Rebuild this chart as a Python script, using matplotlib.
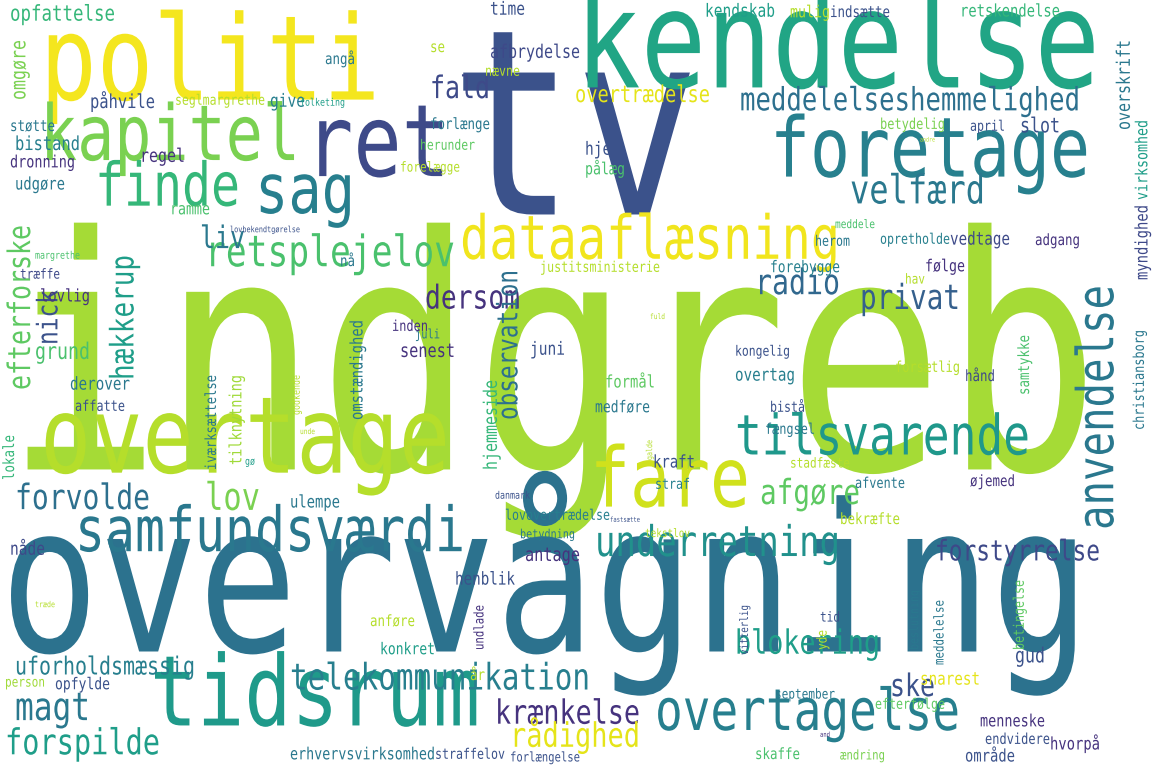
import matplotlib
matplotlib.use("Agg")
import matplotlib.pyplot as plt
from matplotlib.textpath import TextPath
from matplotlib.patches import PathPatch
from matplotlib.font_manager import FontProperties
from matplotlib.transforms import Affine2D

W, H = 1155, 770
# (word, a, b, c, rotation, colour)
# rot 0: a=x_left, b=x_right, c=y_center ; rot 90: a=x_center, b=y_top, c=y_bottom
entries = [
("indgreb", 5, 1100, 385, 0, "#a5db36"),
("overvågning", 0, 1090, 598, 0, "#2c728e"),
("tv", 450, 700, 147, 0, "#3b528b"),
("kendelse", 575, 1100, 52, 0, "#21a585"),
("politi", 40, 380, 69, 0, "#f4e61e"),
("overtage", 40, 450, 445, 0, "#b5de2b"),
("tidsrum", 150, 480, 700, 0, "#1f9a8a"),
("ret", 305, 450, 150, 0, "#3e4a89"),
("sag", 255, 355, 195, 0, "#277f8e"),
("kapitel", 40, 300, 140, 0, "#7ad151"),
("foretage", 770, 1090, 155, 0, "#27808e"),
("dataaflæsning", 460, 840, 243, 0, "#f1e51d"),
("finde", 95, 240, 190, 0, "#35b779"),
("fare", 590, 750, 485, 0, "#d0e11c"),
("tilsvarende", 735, 1030, 440, 0, "#1f988b"),
("anvendelse", 1100, 285, 530, 90, "#2a788e"),
("samfundsværdi", 75, 465, 535, 0, "#2a788e"),
("retsplejelov", 205, 455, 255, 0, "#4ac16d"),
("meddelelseshemmelighed", 740, 1080, 102, 0, "#2d708e"),
("overtagelse", 655, 960, 715, 0, "#277f8e"),
("forspilde", 5, 160, 745, 0, "#1f9e89"),
("magt", 15, 90, 710, 0, "#2a788e"),
("telekommunikation", 290, 590, 680, 0, "#277f8e"),
("krænkelse", 495, 640, 715, 0, "#46337e"),
("rådighed", 510, 640, 738, 0, "#e5e419"),
("blokering", 735, 880, 645, 0, "#1f9e89"),
("ske", 890, 935, 688, 0, "#3b528b"),
("underretning", 595, 840, 545, 0, "#21918c"),
("forstyrrelse", 935, 1100, 553, 0, "#3e4989"),
("afgøre", 760, 860, 495, 0, "#5ec962"),
("forvolde", 15, 150, 500, 0, "#2d708e"),
("lov", 205, 260, 500, 0, "#7ad151"),
("dersom", 425, 520, 300, 0, "#46337e"),
("privat", 860, 960, 300, 0, "#35608d"),
("radio", 755, 840, 285, 0, "#31688e"),
("velfærd", 850, 985, 193, 0, "#2a788e"),
("liv", 200, 245, 240, 0, "#2a788e"),
("fald", 430, 490, 90, 0, "#3e4a89"),
("nick", 50, 290, 345, 90, "#3b528b"),
("efterforske", 22, 225, 390, 90, "#5ec962"),
("hækkerup", 125, 255, 380, 90, "#1f9e89"),
("observation", 510, 270, 420, 90, "#2d708e"),
("iværksættelse", 212, 375, 470, 90, "#2a788e"),
("tilknytning", 237, 375, 465, 90, "#a0da39"),
("omstændighed", 358, 320, 420, 90, "#2a788e"),
("hjemmeside", 492, 380, 470, 90, "#35b779"),
("lovlig", 40, 90, 297, 0, "#46337e"),
("opfattelse", 10, 115, 15, 0, "#35b779"),
("omgøre", 20, 40, 100, 90, "#7ad151"),
("påhvile", 90, 155, 103, 0, "#3b528b"),
("seglmargrethe", 175, 265, 101, 0, "#b5de2b"),
("give", 270, 305, 102, 0, "#277f8e"),
("folketing", 300, 345, 103, 0, "#1f9e89"),
("angå", 325, 355, 60, 0, "#2a788e"),
("time", 490, 525, 10, 0, "#3b528b"),
("se", 430, 445, 48, 0, "#b5de2b"),
("afbrydelse", 490, 580, 53, 0, "#3e4989"),
("nævne", 485, 520, 72, 0, "#b5de2b"),
("overtrædelse", 575, 710, 96, 0, "#e5e419"),
("kendskab", 705, 775, 12, 0, "#1f9e89"),
("mulig", 790, 830, 13, 0, "#b5de2b"),
("indsætte", 830, 890, 13, 0, "#3b528b"),
("retskendelse", 960, 1060, 12, 0, "#35b779"),
("overskrift", 1125, 40, 130, 90, "#2a788e"),
("virksomhed", 1143, 120, 200, 90, "#1f9e89"),
("myndighed", 1143, 205, 280, 90, "#3e4989"),
("april", 970, 1005, 127, 0, "#3b528b"),
("slot", 1020, 1060, 127, 0, "#3b528b"),
("betydelig", 880, 945, 125, 0, "#7ad151"),
("forlænge", 430, 490, 125, 0, "#2a788e"),
("herunder", 420, 475, 146, 0, "#5ec962"),
("hjem", 585, 620, 150, 0, "#3b528b"),
("pålæg", 585, 625, 170, 0, "#4ac16d"),
("forelægge", 400, 460, 168, 0, "#b5de2b"),
("andre", 920, 935, 140, 0, "#b5de2b"),
("støtte", 10, 55, 127, 0, "#2a788e"),
("bistand", 15, 80, 145, 0, "#277f8e"),
("regel", 140, 185, 157, 0, "#46337e"),
("dronning", 10, 75, 163, 0, "#46337e"),
("udgøre", 15, 65, 185, 0, "#2a788e"),
("adgang", 1035, 1080, 241, 0, "#46337e"),
("meddele", 835, 875, 225, 0, "#4ac16d"),
("herom", 815, 850, 242, 0, "#2a788e"),
("opretholde", 880, 950, 240, 0, "#27808e"),
("vedtage", 950, 1010, 240, 0, "#3e4a89"),
("ramme", 170, 210, 210, 0, "#4ac16d"),
("lovbekendtgørelse", 230, 300, 230, 0, "#3b528b"),
("margrethe", 35, 80, 256, 0, "#4ac16d"),
("træffe", 20, 60, 275, 0, "#3e4989"),
("nå", 340, 355, 262, 0, "#2a788e"),
("justitsministerie", 540, 660, 268, 0, "#b5de2b"),
("forebygge", 770, 840, 268, 0, "#27808e"),
("følge", 925, 965, 267, 0, "#46337e"),
("hav", 905, 925, 280, 0, "#b5de2b"),
("grund", 35, 90, 353, 0, "#4ac16d"),
("derover", 70, 130, 385, 0, "#2a788e"),
("affatte", 75, 125, 407, 0, "#3b528b"),
("lokale", 10, 435, 480, 90, "#35b779"),
("kongelig", 735, 790, 352, 0, "#3b528b"),
("christiansborg", 1140, 330, 430, 90, "#2a788e"),
("samtykke", 1025, 335, 395, 90, "#4ac16d"),
("fuld", 650, 665, 317, 0, "#b5de2b"),
("juli", 415, 440, 335, 0, "#2a788e"),
("juni", 530, 565, 350, 0, "#3b528b"),
("senest", 400, 455, 352, 0, "#46337e"),
("inden", 392, 428, 327, 0, "#46337e"),
("formål", 605, 655, 383, 0, "#5ec962"),
("overtag", 735, 795, 376, 0, "#277f8e"),
("forsætlig", 895, 960, 368, 0, "#b5de2b"),
("hånd", 965, 995, 377, 0, "#3e4a89"),
("medføre", 595, 650, 408, 0, "#2a788e"),
("bistå", 770, 805, 408, 0, "#3b528b"),
("fængsel", 765, 815, 430, 0, "#2a788e"),
("galde", 650, 440, 460, 90, "#b5de2b"),
("godkende", 297, 375, 415, 90, "#b5de2b"),
("unde", 300, 315, 432, 0, "#b5de2b"),
("gø", 245, 255, 462, 0, "#1f9e89"),
("kraft", 653, 695, 463, 0, "#3b528b"),
("straf", 655, 690, 485, 0, "#27808e"),
("stadfæste", 790, 850, 464, 0, "#b5de2b"),
("afvente", 855, 905, 484, 0, "#2a788e"),
("øjemed", 970, 1015, 482, 0, "#46337e"),
("ulempe", 290, 340, 503, 0, "#2a788e"),
("danmark", 495, 530, 496, 0, "#3b528b"),
("lovovertrædelse", 505, 610, 516, 0, "#277f8e"),
("betydning", 520, 575, 535, 0, "#2a788e"),
("fastsætte", 610, 640, 520, 0, "#3b528b"),
("tekstlov", 645, 690, 534, 0, "#b5de2b"),
("antage", 525, 580, 556, 0, "#46337e"),
("bekræfte", 840, 900, 520, 0, "#b5de2b"),
("nåde", 10, 45, 550, 0, "#3e4989"),
("henblik", 455, 515, 580, 0, "#3b528b"),
("træde", 35, 55, 605, 0, "#b5de2b"),
("tid", 820, 840, 618, 0, "#3b528b"),
("vitterlig", 745, 605, 655, 90, "#3b528b"),
("yde", 823, 630, 650, 90, "#b5de2b"),
("meddelelse", 940, 600, 665, 90, "#2a788e"),
("beslutning", 915, 590, 650, 90, "#2a788e"),
("betingelse", 1020, 580, 650, 90, "#5ec962"),
("gud", 1015, 1045, 657, 0, "#3b528b"),
("snarest", 920, 980, 680, 0, "#e5e419"),
("september", 775, 835, 695, 0, "#2a788e"),
("efterfølge", 875, 945, 705, 0, "#5ec962"),
("menneske", 980, 1045, 722, 0, "#46337e"),
("endvidere", 985, 1050, 740, 0, "#3b528b"),
("and", 820, 830, 735, 0, "#46337e"),
("ændring", 840, 885, 756, 0, "#7ad151"),
("skaffe", 755, 800, 755, 0, "#4ac16d"),
("forlængelse", 510, 580, 758, 0, "#3b528b"),
("straffelov", 435, 505, 755, 0, "#3b528b"),
("erhvervsvirksomhed", 290, 435, 755, 0, "#2a788e"),
("område", 965, 1015, 757, 0, "#3b528b"),
("hvorpå", 1050, 1100, 745, 0, "#46337e"),
("anføre", 370, 415, 622, 0, "#b5de2b"),
("undlade", 480, 605, 650, 90, "#46337e"),
("konkret", 380, 435, 650, 0, "#1f9e89"),
("år", 470, 485, 676, 0, "#b5de2b"),
("uforholdsmæssig", 15, 195, 668, 0, "#277f8e"),
("person", 5, 45, 683, 0, "#a0da39"),
("opfylde", 55, 110, 685, 0, "#3b528b"),
]

SY = 1.25  # vertical stretch of the glyphs relative to the mono font
DPI = 100
fig = plt.figure(figsize=(W / DPI, H / DPI), dpi=DPI)
ax = fig.add_axes([0, 0, 1, 1])
ax.set_xlim(0, W)
ax.set_ylim(H, 0)
ax.axis("off")
fig.patch.set_facecolor("white")
fp = FontProperties(family="DejaVu Sans Mono")

for word, a, b, c, rot, col in entries:
    extent = (b - a) if rot == 0 else (c - b)
    em = extent / (0.602 * len(word))
    path = TextPath((0, 0), word, size=em, prop=fp)
    off = 0.26 * em * SY
    if rot == 0:
        tr = Affine2D().scale(1, -SY).translate(a, c + off)
    else:
        tr = Affine2D().scale(1, SY).rotate_deg(90).scale(1, -1).translate(a + off, c)
    ax.add_patch(PathPatch(path, transform=tr + ax.transData, facecolor=col,
                           edgecolor="none"))

fig.savefig("out.png", dpi=DPI, facecolor="white")
